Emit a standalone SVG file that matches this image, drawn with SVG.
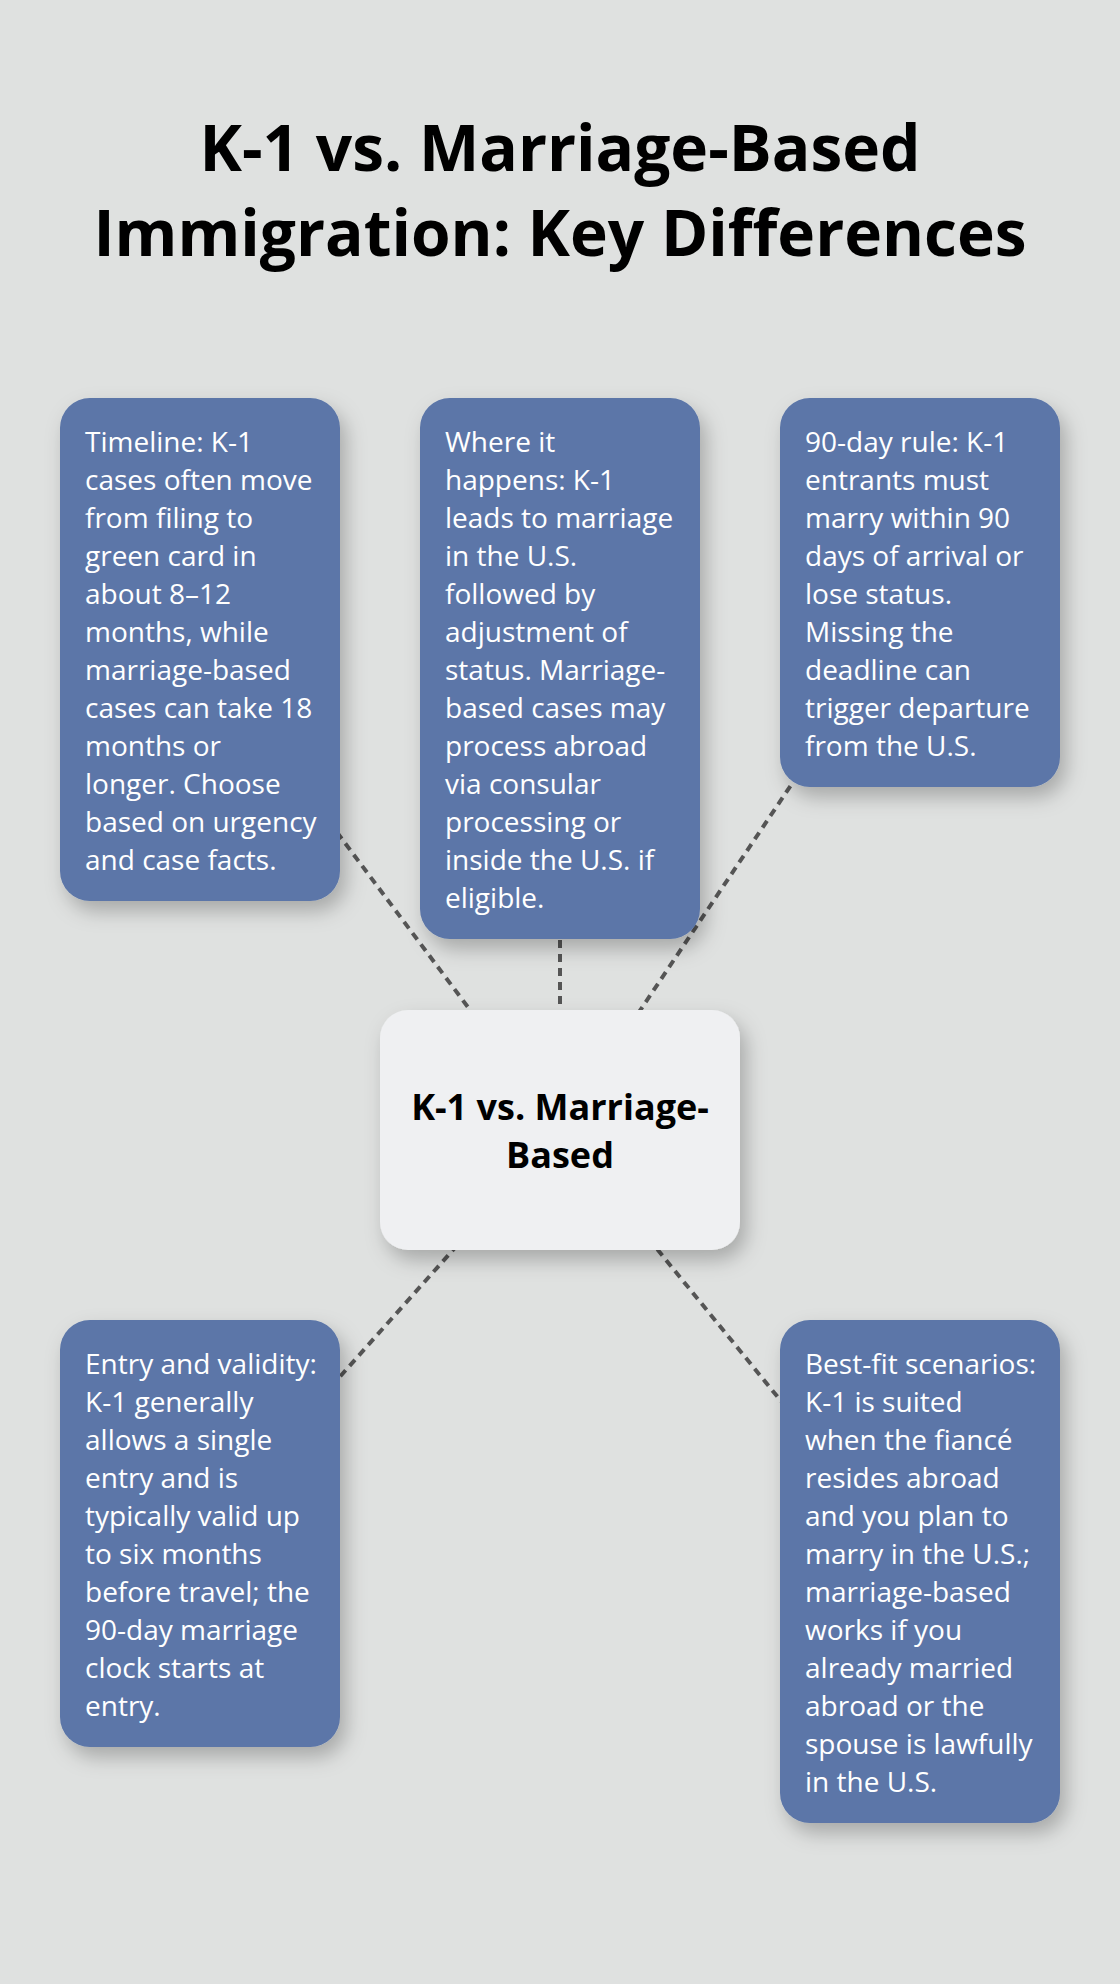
<svg xmlns="http://www.w3.org/2000/svg" width="1120" height="1984" viewBox="0 0 1120 1984">
<defs>
<filter id="sh" x="-25%" y="-25%" width="160%" height="160%">
<feDropShadow dx="6" dy="10" stdDeviation="10" flood-color="#000" flood-opacity="0.25"/>
</filter>
<style>
.title{font-family:"Open Sans","Liberation Sans",sans-serif;font-weight:700;font-size:64px;fill:#000;text-anchor:middle}
.card{fill:#5b76a8;filter:url(#sh)}
.hub{fill:#eff0f2;filter:url(#sh)}
.body{font-family:"Open Sans","Liberation Sans",sans-serif;font-size:28px;fill:#ffffff}
.hubt{font-family:"Open Sans","Liberation Sans",sans-serif;font-weight:700;font-size:36px;fill:#000;text-anchor:middle}
.conn{stroke:#555555;stroke-width:4;stroke-dasharray:8 6;fill:none}
</style>
</defs>
<rect x="0" y="0" width="1120" height="1984" fill="#dfe1e0"/>
<g id="title">
<text class="title" x="560" y="171">K-1 vs. Marriage-Based</text>
<text class="title" x="560" y="256">Immigration: Key Differences</text>
</g>
<g id="connectors">
<line class="conn" x1="560" y1="1130" x2="200" y2="649.5"/>
<line class="conn" x1="560" y1="1130" x2="560" y2="668.5"/>
<line class="conn" x1="560" y1="1130" x2="920" y2="592.5"/>
<line class="conn" x1="560" y1="1130" x2="200" y2="1533.5"/>
<line class="conn" x1="560" y1="1130" x2="920" y2="1571.5"/>
</g>
<g id="node-timeline">
<rect class="card" x="60" y="398" width="280" height="503" rx="30"/>
<text class="body">
<tspan x="85" y="452">Timeline: K-1</tspan>
<tspan x="85" y="490">cases often move</tspan>
<tspan x="85" y="528">from filing to</tspan>
<tspan x="85" y="566">green card in</tspan>
<tspan x="85" y="604">about 8–12</tspan>
<tspan x="85" y="642">months, while</tspan>
<tspan x="85" y="680">marriage-based</tspan>
<tspan x="85" y="718">cases can take 18</tspan>
<tspan x="85" y="756">months or</tspan>
<tspan x="85" y="794">longer. Choose</tspan>
<tspan x="85" y="832">based on urgency</tspan>
<tspan x="85" y="870">and case facts.</tspan>
</text>
</g>
<g id="node-where">
<rect class="card" x="420" y="398" width="280" height="541" rx="30"/>
<text class="body">
<tspan x="445" y="452">Where it</tspan>
<tspan x="445" y="490">happens: K-1</tspan>
<tspan x="445" y="528">leads to marriage</tspan>
<tspan x="445" y="566">in the U.S.</tspan>
<tspan x="445" y="604">followed by</tspan>
<tspan x="445" y="642">adjustment of</tspan>
<tspan x="445" y="680">status. Marriage-</tspan>
<tspan x="445" y="718">based cases may</tspan>
<tspan x="445" y="756">process abroad</tspan>
<tspan x="445" y="794">via consular</tspan>
<tspan x="445" y="832">processing or</tspan>
<tspan x="445" y="870">inside the U.S. if</tspan>
<tspan x="445" y="908">eligible.</tspan>
</text>
</g>
<g id="node-90day">
<rect class="card" x="780" y="398" width="280" height="389" rx="30"/>
<text class="body">
<tspan x="805" y="452">90-day rule: K-1</tspan>
<tspan x="805" y="490">entrants must</tspan>
<tspan x="805" y="528">marry within 90</tspan>
<tspan x="805" y="566">days of arrival or</tspan>
<tspan x="805" y="604">lose status.</tspan>
<tspan x="805" y="642">Missing the</tspan>
<tspan x="805" y="680">deadline can</tspan>
<tspan x="805" y="718">trigger departure</tspan>
<tspan x="805" y="756">from the U.S.</tspan>
</text>
</g>
<g id="node-center">
<rect class="hub" x="380" y="1010" width="360" height="240" rx="28"/>
<text class="hubt" x="560" y="1120">K-1 vs. Marriage-</text>
<text class="hubt" x="560" y="1168">Based</text>
</g>
<g id="node-entry">
<rect class="card" x="60" y="1320" width="280" height="427" rx="30"/>
<text class="body">
<tspan x="85" y="1374">Entry and validity:</tspan>
<tspan x="85" y="1412">K-1 generally</tspan>
<tspan x="85" y="1450">allows a single</tspan>
<tspan x="85" y="1488">entry and is</tspan>
<tspan x="85" y="1526">typically valid up</tspan>
<tspan x="85" y="1564">to six months</tspan>
<tspan x="85" y="1602">before travel; the</tspan>
<tspan x="85" y="1640">90-day marriage</tspan>
<tspan x="85" y="1678">clock starts at</tspan>
<tspan x="85" y="1716">entry.</tspan>
</text>
</g>
<g id="node-bestfit">
<rect class="card" x="780" y="1320" width="280" height="503" rx="30"/>
<text class="body">
<tspan x="805" y="1374">Best-fit scenarios:</tspan>
<tspan x="805" y="1412">K-1 is suited</tspan>
<tspan x="805" y="1450">when the fiancé</tspan>
<tspan x="805" y="1488">resides abroad</tspan>
<tspan x="805" y="1526">and you plan to</tspan>
<tspan x="805" y="1564">marry in the U.S.;</tspan>
<tspan x="805" y="1602">marriage-based</tspan>
<tspan x="805" y="1640">works if you</tspan>
<tspan x="805" y="1678">already married</tspan>
<tspan x="805" y="1716">abroad or the</tspan>
<tspan x="805" y="1754">spouse is lawfully</tspan>
<tspan x="805" y="1792">in the U.S.</tspan>
</text>
</g>
</svg>
